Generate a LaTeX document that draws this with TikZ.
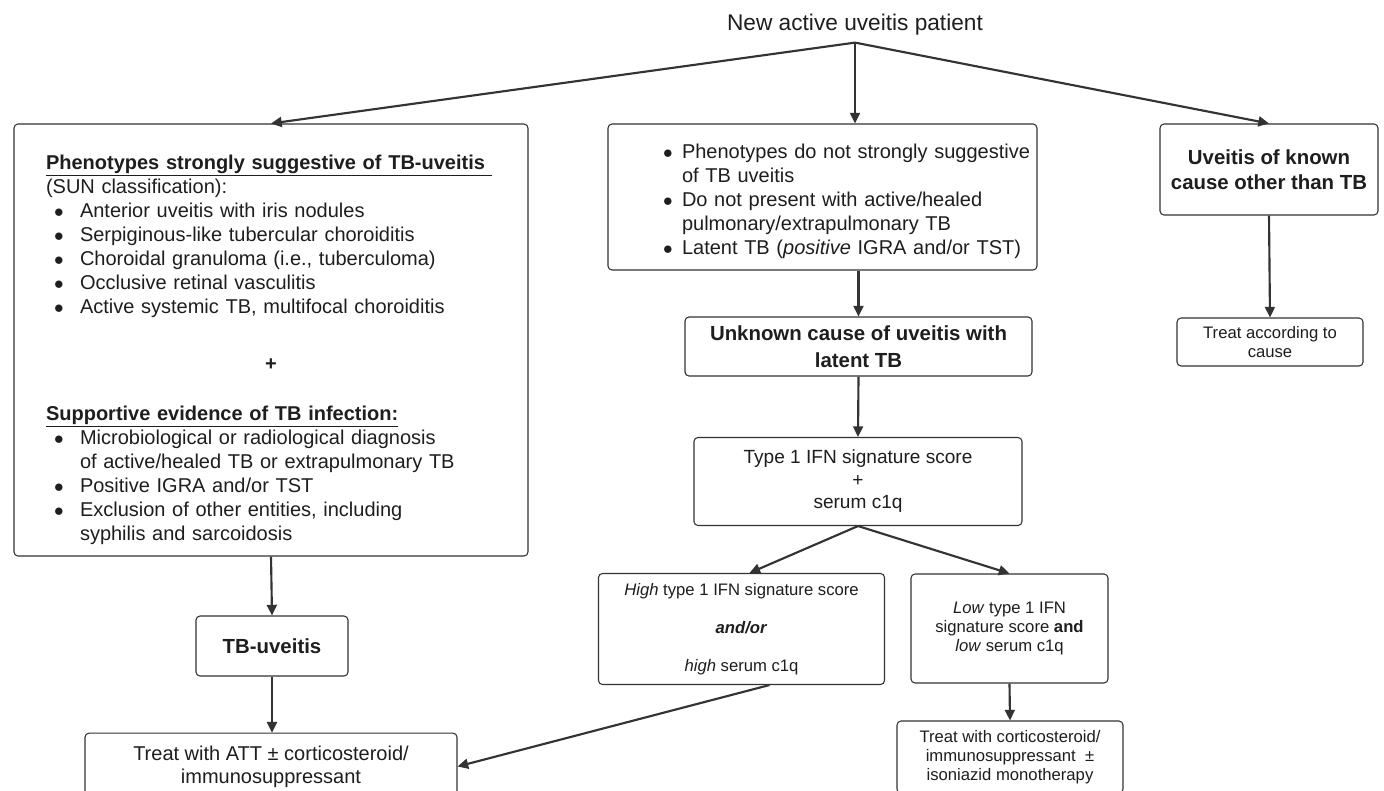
\documentclass[tikz,border=0pt]{standalone}
\usepackage{fontspec}
\setmainfont{Liberation Sans}
\usepackage{xcolor}
\usetikzlibrary{arrows.meta}
\definecolor{ink}{HTML}{1E1E1E}
\definecolor{edge}{HTML}{333333}
\newlength{\pxu}
\setlength{\pxu}{0.75pt}
\newcommand{\bdot}{$\bullet$}
\newcommand{\lbul}[1]{\mbox{\hspace*{8\pxu}\makebox[26\pxu][l]{\bdot}#1}}
\newcommand{\lcont}[1]{\mbox{\hspace*{34\pxu}#1}}
\newcommand{\mbul}[1]{\mbox{\makebox[19\pxu][l]{\bdot}#1}}
\newcommand{\mcont}[1]{\mbox{\hspace*{19\pxu}#1}}
\newcommand{\mainsz}{\fontsize{15}{18}\selectfont}
\newcommand{\smallsz}{\fontsize{12.5}{14.3}\selectfont}
\newcommand{\headsz}{\fontsize{15.3}{19}\selectfont\bfseries}
\tikzset{
  box/.style={draw=edge, line width=0.8pt, rounded corners=3pt, text=ink, inner sep=0pt, align=center},
  arr/.style={draw=edge, line width=1.6pt, -{Triangle[length=8pt,width=7.5pt]}},
}

\begin{document}
\begin{tikzpicture}[x=0.75pt,y=-0.75pt]
  \path[use as bounding box, fill=white] (0,0) rectangle (1384,790);
  % top: patient, then three branches
  \node[text=ink, font=\fontsize{17}{20}\selectfont, minimum height=26pt, inner sep=0pt] (start) at (855,25) {New active uveitis patient};
  \node[box, align=left, inner xsep=24pt, text width=337.5pt, minimum height=324pt, font=\mainsz] (phen) at (271,340) {%
    \rule{0pt}{25pt}\underline{\textbf{Phenotypes strongly suggestive of TB-uveitis\ }}\\
    (SUN classification):\\
    \lbul{Anterior uveitis with iris nodules}\\
    \lbul{Serpiginous-like tubercular choroiditis}\\
    \lbul{Choroidal granuloma (i.e., tuberculoma)}\\
    \lbul{Occlusive retinal vasculitis}\\
    \lbul{Active systemic TB, multifocal choroiditis}\\[24.75pt]
    \makebox[\hsize]{\textbf{+}}\\[19.5pt]
    \underline{\textbf{Supportive evidence of TB infection:}}\\
    \lbul{Microbiological or radiological diagnosis}\\
    \lcont{of active/healed TB or extrapulmonary TB}\\
    \lbul{Positive IGRA and/or TST}\\
    \lbul{Exclusion of other entities, including}\\
    \lcont{syphilis and sarcoidosis}};
  \node[box, align=left, inner xsep=41.25pt, text width=239.25pt, minimum height=109.5pt, font=\mainsz] (mid) at (822.5,197) {%
    \rule{0pt}{17pt}\mbul{Phenotypes do not strongly suggestive}\\
    \mcont{of TB uveitis}\\
    \mbul{Do not present with active/healed}\\
    \mcont{pulmonary/extrapulmonary TB}\\
    \mbul{Latent TB (\textit{positive} IGRA and/or TST)}};
  \node[box, minimum width=163.5pt, minimum height=68.25pt, font=\headsz] (known) at (1269,169.5) {Uveitis of known\\cause other than TB};
  \node[box, minimum width=139.5pt, minimum height=36pt, font=\smallsz] (cause) at (1270,342) {Treat according to\\cause};

  % latent TB branch
  \node[box, minimum width=260.25pt, minimum height=44.25pt, font=\fontsize{15.3}{20}\selectfont\bfseries] (unk) at (858.5,346.5) {Unknown cause of uveitis with\\latent TB};
  \node[box, minimum width=246pt, minimum height=66pt, font=\fontsize{14.3}{16.9}\selectfont] (ifn) at (858,481.5) {Type 1 IFN signature score\\+\\serum c1q};
  \node[box, minimum width=214.5pt, minimum height=83.25pt, font=\smallsz] (high) at (741.5,629) {\textit{High} type 1 IFN signature score\\[14.3pt]\textbf{\textit{and/or}}\\[14.3pt]\textit{high} serum c1q};
  \node[box, minimum width=147.75pt, minimum height=81.75pt, font=\smallsz] (low) at (1009.5,628.5) {\textit{Low} type 1 IFN\\signature score \textbf{and}\\\textit{low} serum c1q};
  \node[box, minimum width=169.5pt, minimum height=54pt, font=\smallsz] (cortico) at (1010,757) {Treat with corticosteroid/\\immunosuppressant \ ±\\isoniazid monotherapy};

  % TB-uveitis branch
  \node[box, minimum width=114pt, minimum height=45pt, font=\headsz] (tbu) at (272,646) {TB-uveitis};
  \node[box, minimum width=279pt, minimum height=50pt, font=\fontsize{15}{17.25}\selectfont] (att) at (271,766.5) {Treat with ATT ± corticosteroid/\\immunosuppressant};

  \draw[arr] (start.south) -- (phen.north);
  \draw[arr] (start.south) -- (start.south |- mid.north);
  \draw[arr] (start.south) -- (known.north);
  \draw[arr] (known.south) -- (cause.north);
  \draw[arr] (unk.north |- mid.south) -- (unk.north);
  \draw[arr] (unk.south) -- (ifn.north);
  \draw[arr] (ifn.south) -- ([xshift=6pt]high.north);
  \draw[arr] (ifn.south) -- (low.north);
  \draw[arr] (low.south) -- (cortico.north);
  \draw[arr] (phen.south) -- (tbu.north);
  \draw[arr] (tbu.south) -- (tbu.south |- att.north);
  \draw[arr] ([xshift=21pt]high.south) -- (att.east);
\end{tikzpicture}
\end{document}
